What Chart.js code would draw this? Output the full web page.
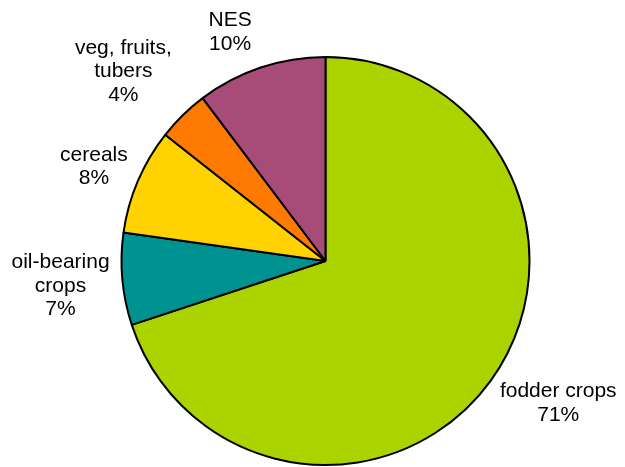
<!DOCTYPE html>
<html>
<head>
<meta charset="utf-8">
<script src="https://cdn.jsdelivr.net/npm/chart.js@4.4.0/dist/chart.umd.min.js"></script>
<style>
  html, body { margin: 0; padding: 0; background: #fff; }
  #wrap { width: 625px; height: 467px; position: relative; }
</style>
</head>
<body>
<div id="wrap"><canvas id="pieChart"></canvas></div>
<script>
// categories (split into lines the way the labels are printed)
const categories = [['fodder crops'], ['oil-bearing', 'crops'], ['cereals'], ['veg, fruits,', 'tubers'], ['NES']];
// slice sizes (%)
const shares = [70.0, 7.3, 8.4, 4.1, 10.3];
// percentage text printed under each label
const shareLabels = ['71%', '7%', '8%', '4%', '10%'];
const sliceColors = ['#AAD300', '#009191', '#FFD200', '#FF7A00', '#A74B79'];

// draws the outside labels, like the office-style pie
const outsideLabels = {
    id: 'outsideLabels',
    afterDatasetsDraw(chart, args, opts) {
        const ctx = chart.ctx;
        const meta = chart.getDatasetMeta(0);
        ctx.save();
        ctx.font = opts.font;
        ctx.fillStyle = '#000';
        ctx.textAlign = 'center';
        ctx.textBaseline = 'middle';
        meta.data.forEach((arc, i) => {
            const p = arc.getProps(['x', 'y', 'startAngle', 'endAngle', 'outerRadius'], true);
            const mid = (p.startAngle + p.endAngle) / 2;
            const dx = Math.cos(mid), dy = Math.sin(mid);
            const lines = chart.data.labels[i].concat([shareLabels[i]]);
            const halfW = Math.max(...lines.map(l => ctx.measureText(l).width)) / 2;
            const halfH = lines.length * opts.lineHeight / 2;
            const r = p.outerRadius + opts.gap;
            const nudge = (opts.nudge && opts.nudge[i]) || [0, 0];
            const cx = p.x + dx * r + dx * halfW + nudge[0];
            const cy = p.y + dy * r + dy * halfH + nudge[1];
            lines.forEach((line, j) => {
                ctx.fillText(line, cx, cy - halfH + opts.lineHeight * (j + 0.5));
            });
        });
        ctx.restore();
    }
};

const ctx = document.getElementById('pieChart').getContext('2d');
new Chart(ctx, {
    type: 'pie',
    data: {
        labels: categories,
        datasets: [{
            data: shares,
            backgroundColor: sliceColors,
            borderColor: '#000',
            borderWidth: 2
        }]
    },
    options: {
        responsive: true,
        maintainAspectRatio: false,
        animation: false,
        layout: { padding: { left: 26, right: 0, top: 56, bottom: 1 } },
        plugins: {
            legend: { display: false },
            tooltip: { enabled: false },
            outsideLabels: {
                font: '21px "Liberation Sans", Arial, sans-serif',
                lineHeight: 23.5,
                gap: 15,
                // Excel moved two labels off the straight radial spot
                nudge: { 0: [8, 0], 2: [1, 1], 3: [-15, -8], 4: [-19, 1], 1: [2, 2] }
            }
        }
    },
    plugins: [outsideLabels]
});
</script>
</body>
</html>
